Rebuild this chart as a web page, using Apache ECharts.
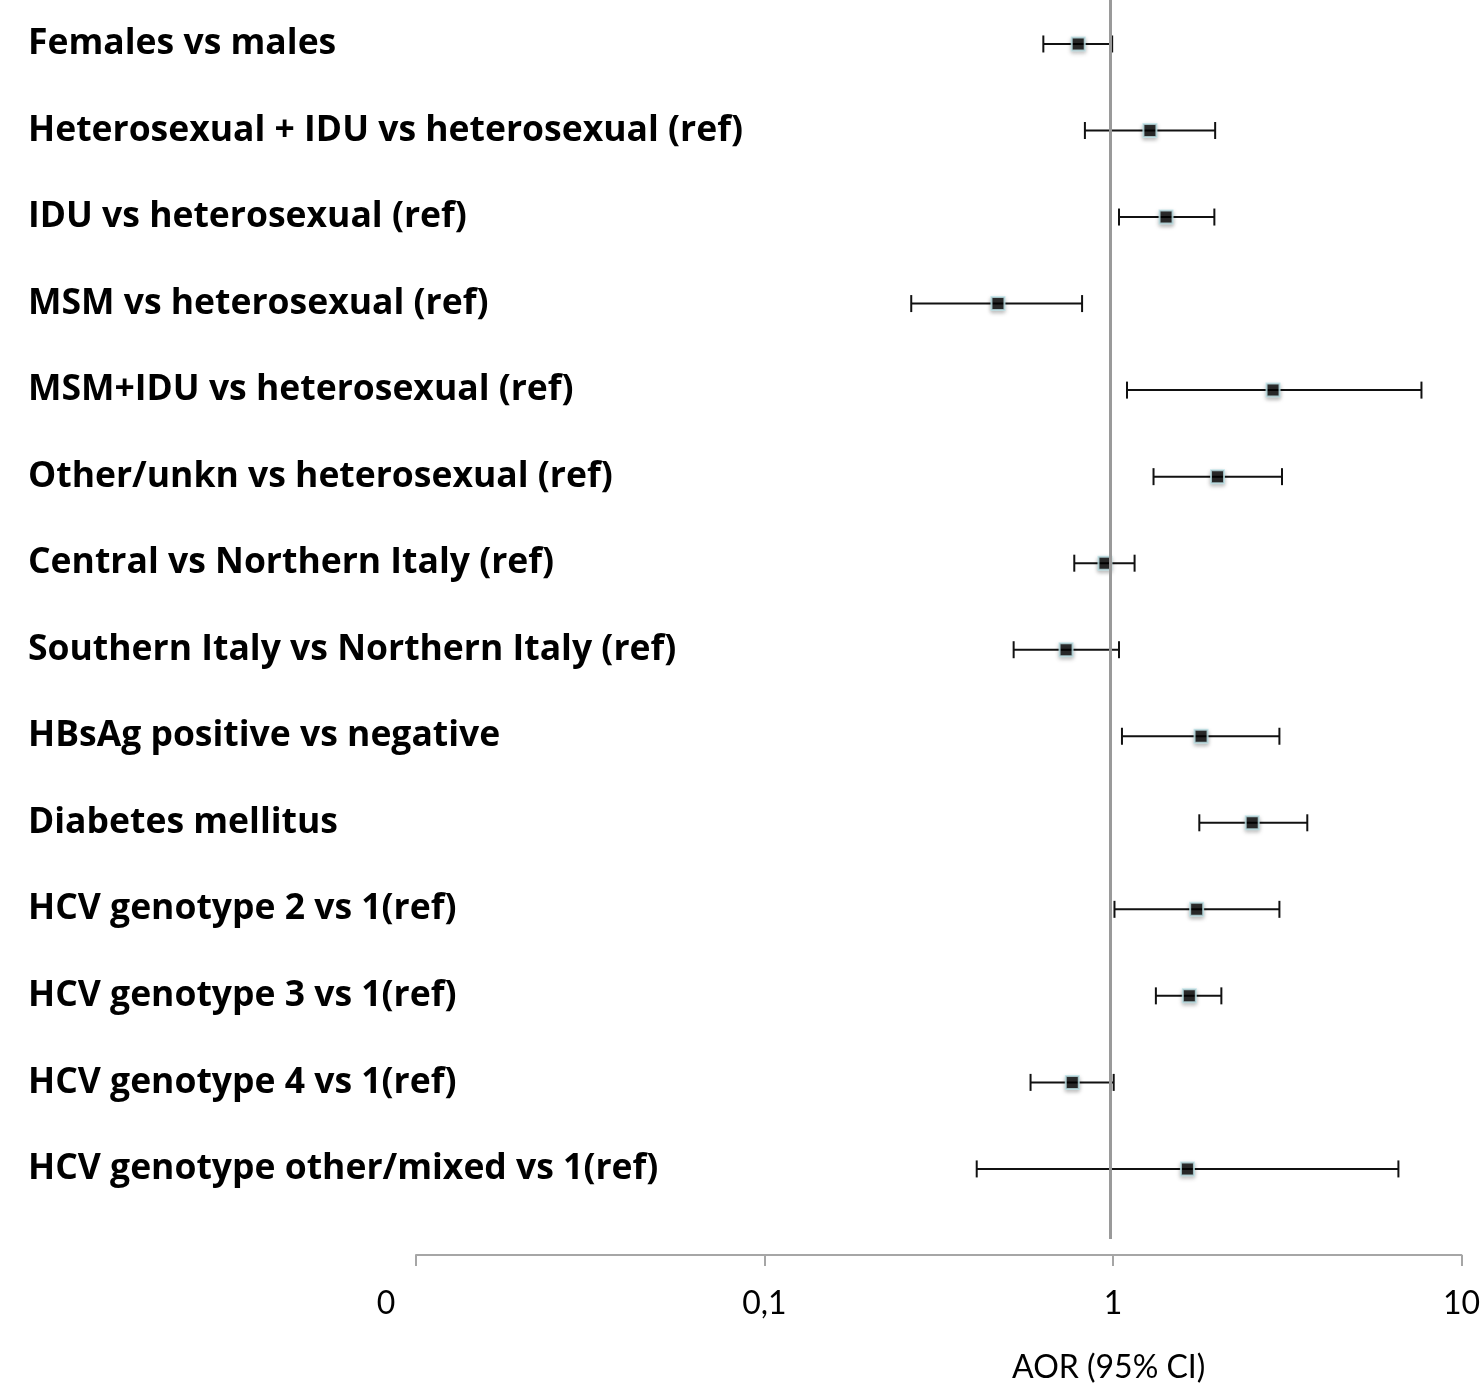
<!DOCTYPE html>
<html>
<head>
    <meta charset="utf-8">
    <title>AOR forest plot</title>
    <script src="https://cdn.jsdelivr.net/npm/echarts@6/dist/echarts.min.js"></script>
    <style>
        html, body { margin: 0; padding: 0; background: #fff; }
        #main { width: 1483px; height: 1389px; }
    </style>
</head>
<body>
<div id="main"></div>
<script>
    // rows, top to bottom
    var labels = [
        'Females vs males',
        'Heterosexual + IDU vs heterosexual (ref)',
        'IDU vs heterosexual (ref)',
        'MSM vs heterosexual (ref)',
        'MSM+IDU vs heterosexual (ref)',
        'Other/unkn vs heterosexual (ref)',
        'Central vs Northern Italy (ref)',
        'Southern Italy vs Northern Italy (ref)',
        'HBsAg positive vs negative',
        'Diabetes mellitus',
        'HCV genotype 2 vs 1(ref)',
        'HCV genotype 3 vs 1(ref)',
        'HCV genotype 4 vs 1(ref)',
        'HCV genotype other/mixed vs 1(ref)'
    ];
    var aor   = [0.78, 1.25, 1.39, 0.46, 2.81, 1.95, 0.93, 0.72, 1.75, 2.45, 1.70, 1.62, 0.75, 1.60];
    var ciLow = [0.62, 0.815, 1.02, 0.26, 1.075, 1.28, 0.76, 0.51, 1.04, 1.73, 0.99, 1.30, 0.57, 0.40];
    var ciHigh= [0.975, 1.92, 1.91, 0.80, 7.46, 2.98, 1.13, 1.02, 2.93, 3.52, 2.93, 2.00, 0.985, 6.41];
    var tickText = { '0.01': '{z|0}', '0.1': '0,1', '1': '1', '10': '10' };
    var refLine = 0.976;   // vertical line drawn just left of 1

    var pointData = aor.map(function (v, i) { return [v, i]; });
    var barData = aor.map(function (v, i) { return [i, ciLow[i], ciHigh[i]]; });

    var chart = echarts.init(document.getElementById('main'));
    var tickFont = 'Lato, "Open Sans", sans-serif';
    var rowFont = '"Open Sans", "Noto Sans", sans-serif';

    chart.setOption({
        animation: false,
        grid: [
            { left: 416, width: 1050, top: 0.7, height: 1211.5 },
            { left: 416, width: 1050, top: 0, height: 1240 }
        ],
        xAxis: [{
            gridIndex: 0, type: 'log', logBase: 10, min: 0.01, max: 10, show: false
        }, {
            gridIndex: 1, type: 'log', logBase: 10, min: 0.01, max: 10,
            offset: 16,
            axisLine: { onZero: false, lineStyle: { color: '#a6a6a6', width: 2 } },
            axisTick: { length: 11, lineStyle: { color: '#a6a6a6', width: 2 } },
            splitLine: { show: false },
            minorTick: { show: false },
            axisLabel: {
                margin: 33, fontSize: 32, color: '#000', fontFamily: tickFont,
                showMinLabel: true, showMaxLabel: true,
                formatter: function (v) { return tickText[String(+v.toPrecision(3))] || ''; },
                rich: { z: { fontSize: 32, color: '#000', fontFamily: tickFont, padding: [0, 60, 0, 0] } }
            },
            name: 'AOR (95% CI)',
            nameLocation: 'middle',
            nameGap: 97,
            nameTextStyle: { fontSize: 32, color: '#000', fontFamily: tickFont, padding: [0, 0, 0, 340] }
        }],
        yAxis: [{
            gridIndex: 0, type: 'category', data: labels, inverse: true,
            axisLine: { show: false }, axisTick: { show: false }, splitLine: { show: false },
            axisLabel: {
                align: 'left', margin: 388, fontSize: 35.5, fontWeight: 'bold',
                color: '#000', fontFamily: rowFont, interval: 0
            }
        }, {
            gridIndex: 1, type: 'value', min: 0, max: 1, show: false
        }],
        series: [{
            type: 'line', xAxisIndex: 1, yAxisIndex: 1, data: [], silent: true,
            markLine: {
                symbol: 'none', silent: true, label: { show: false },
                lineStyle: { color: '#9a9a9a', width: 3, type: 'solid' },
                data: [{ xAxis: refLine }]
            }
        }, {
            type: 'custom', xAxisIndex: 0, yAxisIndex: 0, data: barData,
            encode: { x: [1, 2], y: 0 },
            renderItem: function (params, api) {
                var cat = api.value(0);
                var p0 = api.coord([api.value(1), cat]);
                var p1 = api.coord([api.value(2), cat]);
                var h = 8.5;
                var st = { stroke: '#111', lineWidth: 2 };
                return {
                    type: 'group',
                    children: [
                        { type: 'line', shape: { x1: p0[0], y1: p0[1], x2: p1[0], y2: p1[1] }, style: st },
                        { type: 'line', shape: { x1: p0[0], y1: p0[1] - h, x2: p0[0], y2: p0[1] + h }, style: st },
                        { type: 'line', shape: { x1: p1[0], y1: p1[1] - h, x2: p1[0], y2: p1[1] + h }, style: st }
                    ]
                };
            },
            z: 3
        }, {
            type: 'scatter', xAxisIndex: 0, yAxisIndex: 0, data: pointData,
            symbol: 'rect', symbolSize: 13,
            itemStyle: {
                color: '#000', borderColor: '#bfe4e8', borderWidth: 2,
                shadowBlur: 4, shadowOffsetY: 2, shadowColor: 'rgba(0,0,0,0.3)'
            },
            z: 4
        }]
    });
</script>
</body>
</html>
